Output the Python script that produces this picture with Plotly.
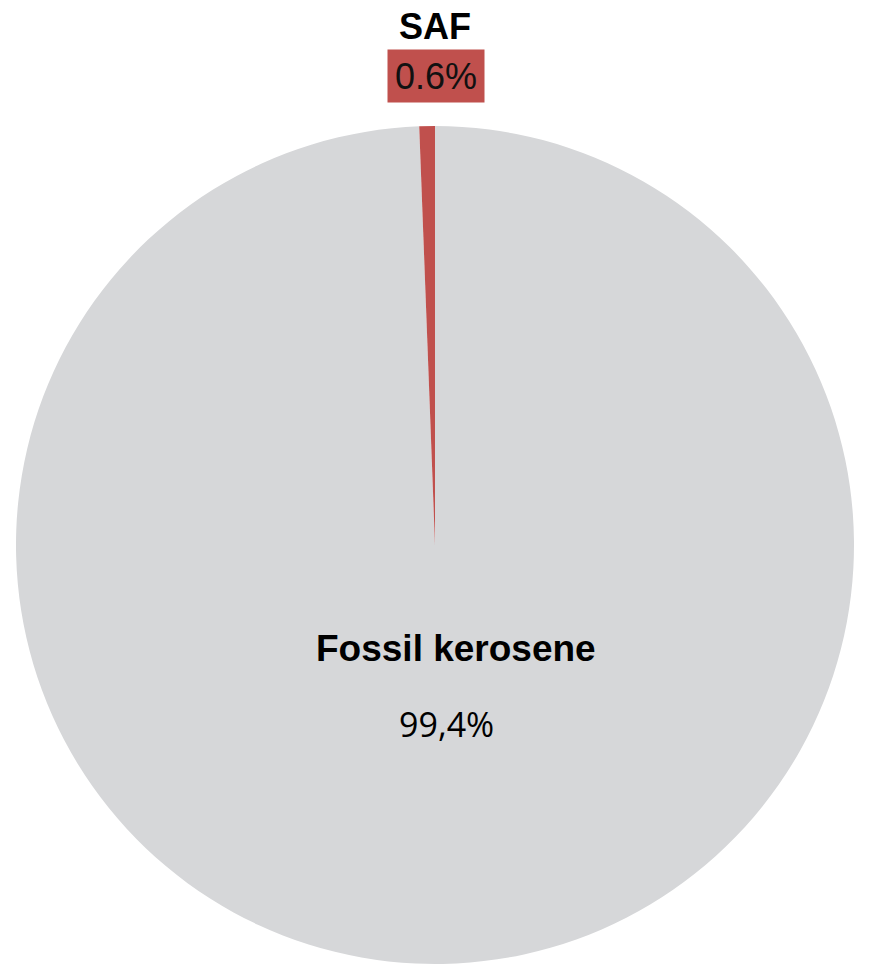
import plotly.graph_objects as go

# Share of jet fuel by type (%)
labels = ["Fossil kerosene", "SAF"]
values = [99.4, 0.6]
colors = ["#D6D7D9", "#C0504D"]

W, H = 871, 965

fig = go.Figure()
fig.add_trace(go.Pie(
    labels=labels,
    values=values,
    sort=False,
    direction="clockwise",
    rotation=0,
    marker=dict(colors=colors, line=dict(width=0)),
    textinfo="none",
    hoverinfo="label+percent",
    showlegend=False,
    domain=dict(x=[16 / W, 854 / W], y=[1 / H, 1 - 126 / H]),
))

fossil_txt = f"{values[0]:.1f}%".replace(".", ",")
saf_txt = f"{values[1]:.1f}%"

fig.add_annotation(
    x=435 / W, y=1 - 27 / H, xref="paper", yref="paper",
    text="<b>SAF</b>", showarrow=False,
    font=dict(family="Liberation Sans, Arial", size=36, color="#000000"),
    xanchor="center", yanchor="middle",
)
fig.add_annotation(
    x=436 / W, y=1 - 76 / H, xref="paper", yref="paper",
    text=saf_txt, showarrow=False,
    font=dict(family="Liberation Sans, Arial", size=36, color="#111111"),
    bgcolor=colors[1], width=96, height=52, borderpad=0,
    xanchor="center", yanchor="middle",
)
fig.add_annotation(
    x=456 / W, y=1 - 648 / H, xref="paper", yref="paper",
    text="<b>Fossil kerosene</b>", showarrow=False,
    font=dict(family="Liberation Sans, Arial", size=37, color="#000000"),
    xanchor="center", yanchor="middle",
)
fig.add_annotation(
    x=446 / W, y=1 - 724 / H, xref="paper", yref="paper",
    text=fossil_txt, showarrow=False,
    font=dict(family="Open Sans, Noto Sans", size=34, color="#000000"),
    xanchor="center", yanchor="middle",
)

fig.update_layout(
    width=W, height=H,
    margin=dict(l=0, r=0, t=0, b=0),
    paper_bgcolor="#FFFFFF",
    plot_bgcolor="#FFFFFF",
)

fig.write_html("out.html")
